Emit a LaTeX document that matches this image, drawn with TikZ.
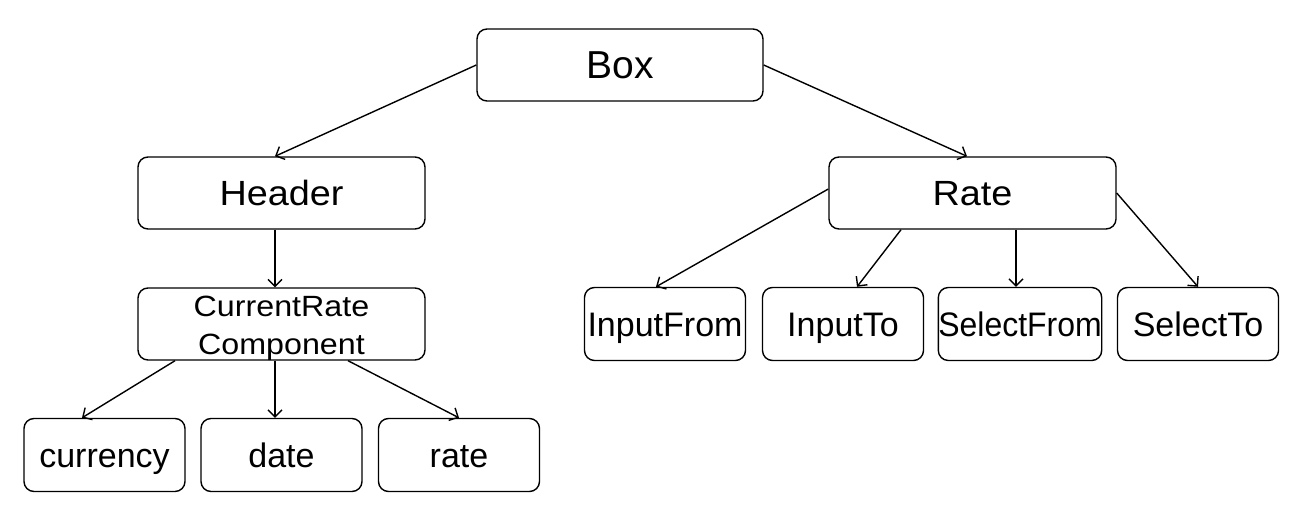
\documentclass[tikz,border=0pt]{standalone}
\usepackage{fontspec}
\setmainfont{Liberation Sans}
\usetikzlibrary{arrows.meta}
\begin{document}
\begin{tikzpicture}[x=1pt,y=-1pt,
  box/.style={draw,rounded corners=10pt,line width=1.4pt,minimum width=287pt,minimum height=72pt,inner sep=0pt,text depth=0pt},
  big/.style={box,font=\fontsize{35}{40}\selectfont,text height=25pt},
  kid/.style={box,minimum width=161pt,minimum height=73pt,font=\fontsize{34}{40}\selectfont,text height=24pt},
  arr/.style={-{Straight Barb[length=7pt,width=14pt]},line width=1.4pt}]
\useasboundingbox (0,0) rectangle (1297,529);
% nodes
\node[box,minimum width=286pt,font=\fontsize{39}{44}\selectfont,text height=28pt] (box) at (620,65) {Box};
\node[big] (header) at (281.5,193) {\scalebox{1.08}[1]{Header}};
\node[big] (rate) at (972.5,193) {\scalebox{1.08}[1]{Rate}};
\node[box,font=\fontsize{29.3}{38}\selectfont,align=center,text height=60pt] (crc) at (281.5,324) {\scalebox{1.1}[1]{CurrentRate}\\\scalebox{1.1}[1]{Component}};
\node[kid] (currency) at (104.5,455) {currency};
\node[kid] (date) at (281.5,455) {date};
\node[kid] (ratef) at (459,455) {rate};
\node[kid] (inputfrom) at (665,324) {InputFrom};
\node[kid] (inputto) at (843,324) {InputTo};
\node[kid] (selectfrom) at (1020,324) {\scalebox{0.94}[1]{SelectFrom}};
\node[kid] (selectto) at (1198,324) {SelectTo};
% connectors
\draw[arr] (box.west) -- ([xshift=-6.5pt]header.north);
\draw[arr] (box.east) -- ([xshift=-5.5pt]rate.north);
\draw[arr] ([xshift=-6.5pt]header.south) -- ([xshift=-6.5pt]crc.north);
\draw[arr] ([xshift=-106.5pt]crc.south) -- ([xshift=-22.5pt]currency.north);
\draw[arr] ([xshift=-6.5pt]crc.south) -- ([xshift=-6.5pt]date.north);
\draw[arr] ([xshift=66.5pt]crc.south) -- (ratef.north);
\draw[arr] ([yshift=4pt]rate.west) -- ([xshift=-9pt]inputfrom.north);
\draw[arr] ([xshift=-71.5pt]rate.south) -- ([xshift=14pt]inputto.north);
\draw[arr] ([xshift=43.5pt]rate.south) -- ([xshift=-4pt]selectfrom.north);
\draw[arr] (rate.east) -- (selectto.north);
\end{tikzpicture}
\end{document}
